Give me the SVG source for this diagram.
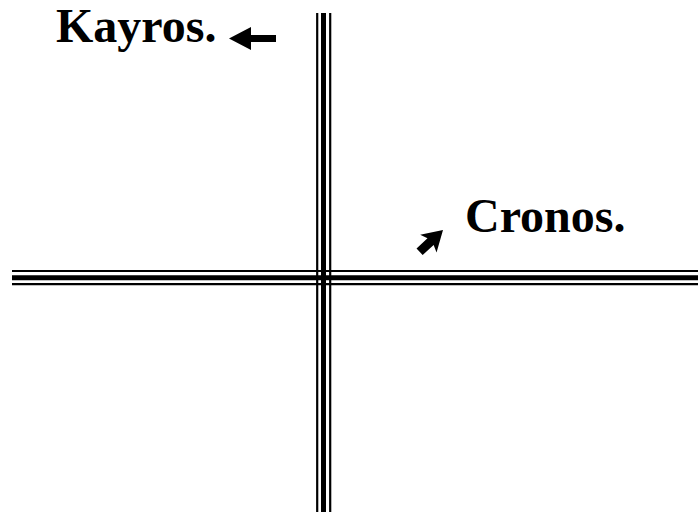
<svg xmlns="http://www.w3.org/2000/svg" width="698" height="512" viewBox="0 0 698 512">
<style>
.lbl{font-family:"Liberation Serif","Times New Roman",serif;font-weight:bold;font-size:48px;fill:#000}
.thin{stroke:#000;stroke-width:2.2;fill:none}
.thick{stroke:#000;stroke-width:5;fill:none}
.arr{fill:#000;stroke:none}
</style>
<rect width="698" height="512" fill="#fff"/>
<g id="connectors">
<g id="horizontal-axis">
<line class="thin" x1="12" y1="271" x2="698" y2="271"/>
<line class="thick" x1="12" y1="277.7" x2="698" y2="277.7"/>
<line class="thin" x1="12" y1="284.2" x2="698" y2="284.2"/>
</g>
<g id="vertical-axis">
<line class="thin" x1="317.2" y1="13" x2="317.2" y2="512"/>
<line class="thick" x1="323.5" y1="13" x2="323.5" y2="512"/>
<line class="thin" x1="330.2" y1="13" x2="330.2" y2="512"/>
</g>
<polygon id="arrow-kayros" class="arr" points="229,38.5 251,27 251,35 276,35 276,42 251,42 251,50"/>
<polygon id="arrow-cronos" class="arr" transform="translate(443,230) rotate(137)" points="0,0 20,-12 17,-4.5 32,-4.5 32,4.5 17,4.5 20,12"/>
</g>
<g id="kayros"><text class="lbl" x="56" y="42">Kayros.</text></g>
<g id="cronos"><text class="lbl" x="465" y="232">Cronos.</text></g>
</svg>
